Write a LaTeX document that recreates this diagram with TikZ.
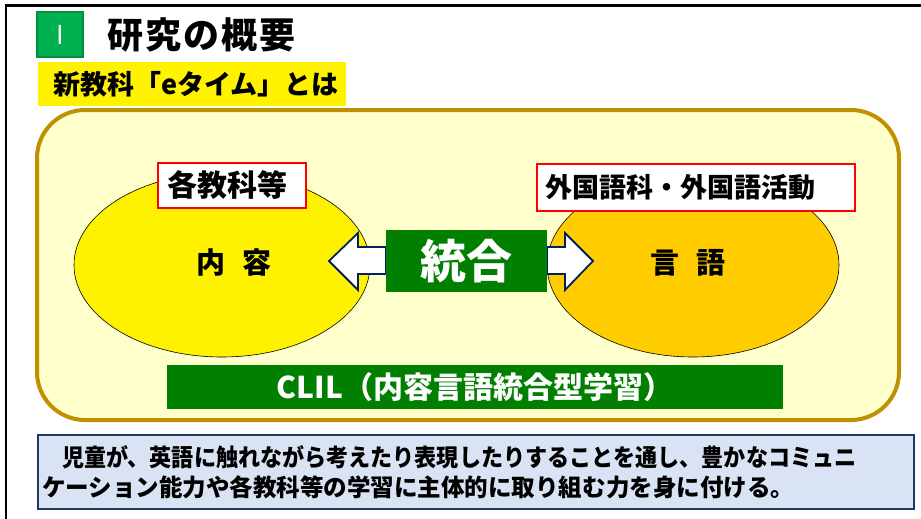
\documentclass[tikz,border=0pt]{standalone}
\usepackage{fontspec}
\usepackage{graphicx}
\newfontfamily\jp{Noto Sans CJK JP}
\usetikzlibrary{shapes.geometric}
\definecolor{numgreen}{HTML}{00B050}
\definecolor{numedge}{HTML}{00903F}
\definecolor{dgreen}{HTML}{007F00}
\definecolor{cream}{HTML}{FFFFCC}
\definecolor{gold}{HTML}{BF9000}
\definecolor{amber}{HTML}{FFCC00}
\definecolor{navy}{HTML}{1F3864}
\definecolor{arrownavy}{HTML}{002060}
\definecolor{paleblue}{HTML}{DAE3F3}
\newcommand\myfs[1]{\fontsize{#1}{#1}\selectfont}
\tikzset{
  plain/.style={inner sep=0pt},
  greenbox/.style={fill=dgreen, text=white, inner sep=0pt},
  redlabel/.style={draw=red, line width=1.5pt, fill=white, anchor=north west, align=left, inner ysep=0pt},
  oval/.style={ellipse, draw=black, line width=0.6pt, inner sep=0pt},
  blockarrow/.style={draw=arrownavy, line width=1.8pt, fill=white, line join=miter},
}
\begin{document}
\begin{tikzpicture}[x=1pt,y=-1pt, font=\jp\bfseries]
\fill[white] (0,0) rectangle (921,519);
\useasboundingbox (0,0) rectangle (921,519);
\draw[line width=2.5pt] (6,519) -- (6,5.5) -- (921,5.5);

% heading
\node[fill=numgreen, draw=numedge, line width=1.2pt, minimum width=46pt, minimum height=45pt, text=white, inner sep=0pt] (num) at (60,34.5) {\mdseries\myfs{26pt}I};
\node[plain, anchor=west] (title) at (107,35) {\myfs{36pt}\makebox[188pt][l]{研\hfill 究\hfill の\hfill 概\hfill 要}};
\node[fill=yellow, anchor=north west, text width=278pt, inner xsep=15pt, inner ysep=0pt, minimum height=44pt, align=left] (sub) at (38,62) {\myfs{27pt}新教科「eタイム」とは};

% panel
\node[draw=gold, line width=4pt, fill=cream, rounded corners=48pt, minimum width=862pt, minimum height=310pt] (panel) at (468,265) {};

% ellipses
\node[oval, fill=yellow, minimum width=296pt, minimum height=184pt] (content) at (222,265) {};
\node[oval, fill=amber, minimum width=292pt, minimum height=184pt] (language) at (693,265) {};
\node[plain] (contentlbl) at (234,263) {\myfs{29pt}内\hspace{18pt}容};
\node[plain] (languagelbl) at (688,263) {\myfs{29pt}言\hspace{18pt}語};

% arrows
\draw[blockarrow] (386,247) -- (358,247) -- (358,233) -- (329,261) -- (358,290) -- (358,274) -- (386,274) -- cycle;
\draw[blockarrow] (547,247) -- (565,247) -- (565,233) -- (593,261) -- (565,290) -- (565,274) -- (547,274) -- cycle;
\node[greenbox, minimum width=161pt, minimum height=62pt] (integ) at (466.5,261) {\myfs{46pt}統合};

% labels
\node[redlabel, text width=128pt, inner xsep=10pt, minimum height=45pt] (subjects) at (157,162) {\myfs{30pt}各教科等};
\node[redlabel, text width=300pt, inner xsep=9pt, minimum height=47pt] (foreign) at (536,163) {\myfs{27pt}外国語科・外国語活動};

% CLIL
\node[greenbox, minimum width=616pt, minimum height=44pt] (clil) at (475,387) {\myfs{30pt}CLIL（内容言語統合型学習）};

% goal
\node[draw=navy, line width=2pt, fill=paleblue, anchor=north west, text width=868pt, inner xsep=4pt, inner ysep=0pt, minimum height=74pt, align=left, font=\jp\bfseries\fontsize{24pt}{30pt}\selectfont] (goal) at (37,434)
 {\hspace*{20pt}\scalebox{0.92}[1]{児童が、英語に触れながら考えたり表現したりすることを通し、豊かなコミュニ}\\\scalebox{0.98}[1]{ケーション能力や各教科等の学習に主体的に取り組む力を身に付ける。}};
\end{tikzpicture}
\end{document}
